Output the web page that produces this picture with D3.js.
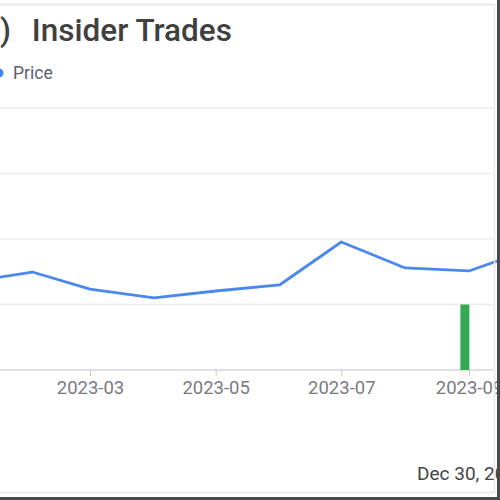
<!DOCTYPE html>
<html>
<head>
<meta charset="utf-8">
<script src="https://cdn.jsdelivr.net/npm/d3@7"></script>
<style>
  html, body { margin: 0; padding: 0; background: #fff; }
  svg { display: block; font-family: Roboto, "Liberation Sans", sans-serif; }
</style>
</head>
<body>
<div id="chart"></div>
<script>
// monthly closing prices
const priceDates = ['2023-01-01', '2023-02-01', '2023-03-01', '2023-04-01', '2023-05-01',
  '2023-06-01', '2023-07-01', '2023-08-01', '2023-09-01', '2023-10-01'];
const priceValues = [6.72, 7.48, 6.18, 5.50, 6.03, 6.49, 9.77, 7.79, 7.56, 9.24];

// insider buys
const tradeDates = ['2023-08-30'];
const tradeShares = [10000];

const tickDates = ['2023-01-01', '2023-03-01', '2023-05-01', '2023-07-01', '2023-09-01'];
const priceTicks = [0, 5, 10, 15, 20];

const titleParts = [')', ' Insider Trades'];
const legendText = 'Price';
const footerText = 'Dec 30, 2023';

const width = 500, height = 500;
const parse = d3.timeParse('%Y-%m-%d');
const fmt = d3.timeFormat('%Y-%m');

const svg = d3.select('#chart').append('svg')
  .attr('width', width)
  .attr('height', height);

// time scale: Mar 1 sits at 90px, Sep 1 at 469px in the cropped view
const x = d3.scaleTime()
  .domain([parse('2023-01-01'), parse('2023-10-01')])
  .range([-31.5, 530.8]);

const y = d3.scaleLinear().domain([0, 20]).range([370, 108]);
const yTrades = d3.scaleLinear().domain([0, 40000]).range([370, 108]);

// outer frame line (light)
svg.append('line')
  .attr('x1', 0).attr('x2', 494).attr('y1', 4.5).attr('y2', 4.5)
  .attr('stroke', '#e6e6ec').attr('stroke-width', 2);

// title and legend
const title = svg.append('text')
  .attr('y', 41)
  .attr('font-size', 31.5)
  .attr('font-weight', 500)
  .attr('fill', '#404040');
title.append('tspan').attr('x', 0).text(titleParts[0]);
title.append('tspan').attr('x', 24).text(titleParts[1]);

svg.append('circle')
  .attr('cx', -1).attr('cy', 73).attr('r', 4.5)
  .attr('fill', '#4285f4');

svg.append('text')
  .attr('x', 13).attr('y', 79)
  .attr('font-size', 17.5)
  .attr('fill', '#5a5f70')
  .text(legendText);

// gridlines
svg.append('g')
  .selectAll('line')
  .data(priceTicks.slice(1))
  .join('line')
  .attr('x1', 0).attr('x2', 493)
  .attr('y1', d => y(d)).attr('y2', d => y(d))
  .attr('stroke', '#ececef')
  .attr('stroke-width', 1.5);

// x axis
const xAxis = svg.append('g')
  .attr('transform', 'translate(0,370)')
  .call(d3.axisBottom(x)
    .tickValues(tickDates.map(parse))
    .tickFormat(fmt)
    .tickSize(6)
    .tickPadding(5));
xAxis.select('.domain').attr('stroke', '#d4d6de').attr('stroke-width', 1.5).attr('d', 'M0,0H493');
xAxis.selectAll('.tick line').attr('stroke', '#c8cad2');
xAxis.selectAll('.tick text')
  .attr('font-size', 18.5)
  .attr('fill', '#7a7a80')
  .attr('font-family', 'Roboto, "Liberation Sans", sans-serif');

// trade bars
svg.append('g')
  .selectAll('rect')
  .data(tradeDates.map((d, i) => ({ date: parse(d), shares: tradeShares[i] })))
  .join('rect')
  .attr('x', d => x(d.date) - 4.5)
  .attr('width', 9)
  .attr('y', d => yTrades(d.shares))
  .attr('height', d => 370 - yTrades(d.shares))
  .attr('fill', '#34a853');

// price line
const priceData = priceDates.map((d, i) => ({ date: parse(d), price: priceValues[i] }));
svg.append('path')
  .datum(priceData)
  .attr('fill', 'none')
  .attr('stroke', '#4a88f0')
  .attr('stroke-width', 2.8)
  .attr('stroke-linejoin', 'round')
  .attr('d', d3.line().x(d => x(d.date)).y(d => y(d.price)));

// footer date
svg.append('text')
  .attr('x', 417).attr('y', 480)
  .attr('font-size', 19)
  .attr('fill', '#444')
  .text(footerText);

// frame edges
svg.append('line')
  .attr('x1', 494.5).attr('x2', 494.5).attr('y1', 4).attr('y2', 492)
  .attr('stroke', '#e6e6ec').attr('stroke-width', 1.5);
svg.append('line')
  .attr('x1', 0).attr('x2', 495).attr('y1', 492.5).attr('y2', 492.5)
  .attr('stroke', '#e6e6ec').attr('stroke-width', 1.5);
svg.append('rect')
  .attr('x', 497).attr('y', 0).attr('width', 3).attr('height', 500)
  .attr('fill', '#4a4a4a');
svg.append('rect')
  .attr('x', 0).attr('y', 497).attr('width', 500).attr('height', 3)
  .attr('fill', '#4a4a4a');
</script>
</body>
</html>
